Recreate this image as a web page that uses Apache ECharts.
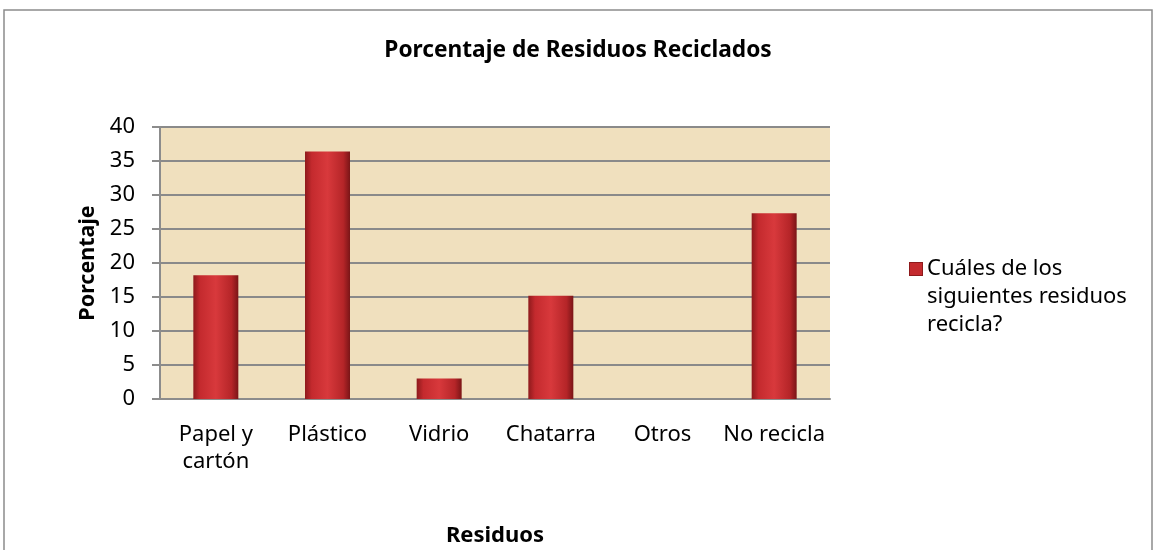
<!DOCTYPE html>
<html>
<head>
<meta charset="utf-8">
<script src="https://cdn.jsdelivr.net/npm/echarts@6/dist/echarts.min.js"></script>
<style>
  html, body { margin: 0; padding: 0; background: #fff; }
  #chart { width: 1156px; height: 550px; }
</style>
</head>
<body>
<div id="chart"></div>
<script>
// datos del gráfico
const categorias = ['Papel y\ncartón', 'Plástico', 'Vidrio', 'Chatarra', 'Otros', 'No recicla']
const porcentajes = [18.2, 36.4, 3.0, 15.2, 0, 27.3]
const serieNombre = 'Cuáles de los siguientes residuos recicla?'
const leyendaLineas = ['Cuáles de los', 'siguientes residuos', 'recicla?']

const fuente = '"Noto Sans", "Open Sans", sans-serif'

// color rojo de las barras
const rojoBarra = new echarts.graphic.LinearGradient(0, 0, 1, 0, [
    { offset: 0, color: '#8e1a1c' },
    { offset: 0.15, color: '#c42a2e' },
    { offset: 0.5, color: '#d8393c' },
    { offset: 0.85, color: '#b52528' },
    { offset: 1, color: '#7a1517' }
])

var myChart = echarts.init(document.getElementById('chart'));
myChart.setOption({
    animation: false,
    backgroundColor: '#ffffff',
    title: {
        text: 'Porcentaje de Residuos Reciclados',
        left: 'center',
        top: 34,
        textStyle: { fontFamily: fuente, fontSize: 22.7, fontWeight: 'bold', color: '#000' }
    },
    graphic: [{
        type: 'rect',
        shape: { x: 4, y: 10, width: 1148, height: 560 },
        style: { fill: 'none', stroke: '#8c8c8c', lineWidth: 1.5 },
        silent: true
    }],
    legend: {
        left: 900,
        top: 250,
        orient: 'vertical',
        itemWidth: 0,
        itemHeight: 0,
        icon: 'rect',
        formatter: function () {
            // marcador cuadrado solo en la primera línea
            return leyendaLineas.map(function (l, i) {
                return (i === 0 ? '{m|}' : '{s|}') + '{t|' + l + '}'
            }).join('\n')
        },
        textStyle: {
            fontFamily: fuente, fontSize: 22, color: '#000', lineHeight: 28,
            rich: {
                m: { width: 12, height: 12, backgroundColor: '#c42a2e', borderColor: '#8e1a1c', borderWidth: 1 },
                s: { width: 12, height: 12 },
                t: { fontFamily: fuente, fontSize: 22, color: '#000', lineHeight: 28, padding: [0, 0, 0, 5] }
            }
        },
        data: [serieNombre]
    },
    grid: {
        left: 160,
        right: 326,
        top: 127,
        bottom: 151,
        show: true,
        backgroundColor: '#f0e0be',
        borderWidth: 0
    },
    xAxis: {
        type: 'category',
        data: categorias,
        name: 'Residuos',
        nameLocation: 'middle',
        nameGap: 126,
        nameTextStyle: { fontFamily: fuente, fontSize: 22, fontWeight: 'bold', color: '#000' },
        axisLine: { lineStyle: { color: '#8c8c8c', width: 2 } },
        axisTick: { show: false },
        axisLabel: {
            fontFamily: fuente, fontSize: 22, color: '#000', margin: 22, lineHeight: 27,
            verticalAlign: 'top', interval: 0
        }
    },
    yAxis: {
        type: 'value',
        min: 0,
        max: 40,
        interval: 5,
        name: 'Porcentaje',
        nameLocation: 'middle',
        nameGap: 61,
        nameTextStyle: { fontFamily: fuente, fontSize: 21.5, fontWeight: 'bold', color: '#000' },
        axisLine: { show: true, lineStyle: { color: '#8c8c8c', width: 2 } },
        axisTick: { show: true, length: 8, lineStyle: { color: '#8c8c8c', width: 2 } },
        axisLabel: { fontFamily: fuente, fontSize: 22, color: '#000', margin: 25 },
        splitLine: { lineStyle: { color: '#8a8a8a', width: 2 } }
    },
    series: [{
        name: serieNombre,
        type: 'bar',
        data: porcentajes,
        barWidth: 45,
        itemStyle: {
            color: rojoBarra,
            borderWidth: 0
        }
    }]
});
</script>
</body>
</html>
